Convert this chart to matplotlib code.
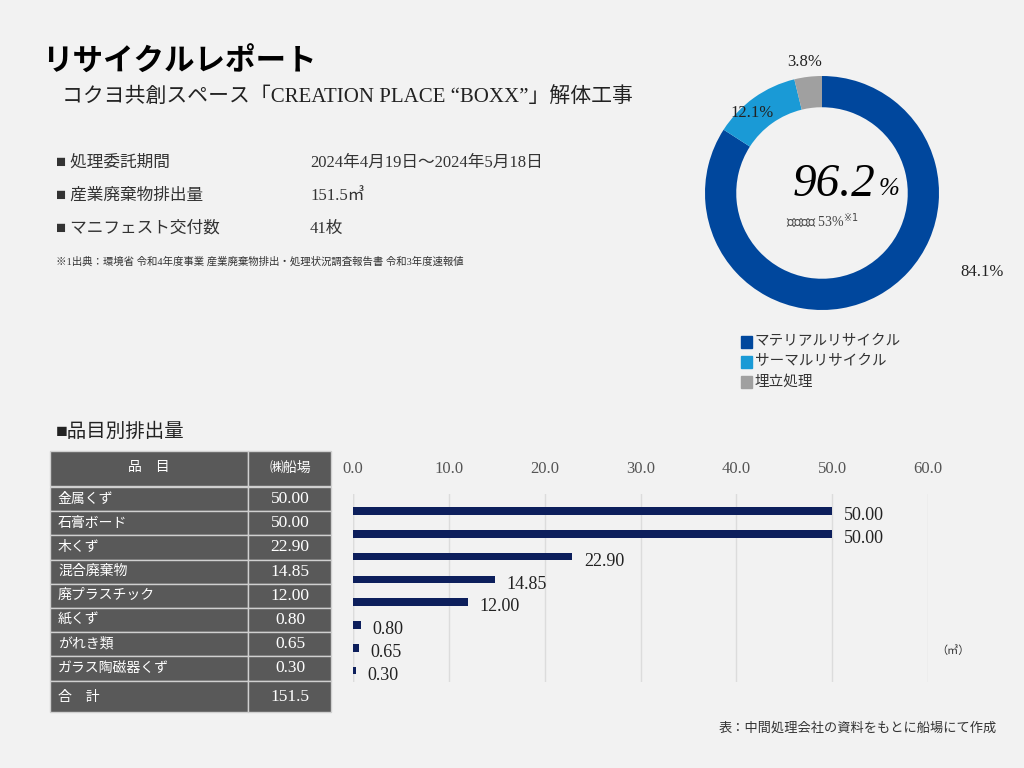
import matplotlib.pyplot as plt
from matplotlib.patches import Rectangle
import numpy as np

plt.rcParams['font.family'] = ['Liberation Serif', 'Noto Sans CJK JP', 'DejaVu Sans']

# donut data
pie_labels = ['マテリアルリサイクル', 'サーマルリサイクル', '埋立処理']
pie_values = [84.1, 12.1, 3.8]
pie_colors = ['#00479d', '#1a9ad6', '#a0a0a0']

# item data
items = ['金属くず', '石膏ボード', '木くず', '混合廃棄物', '廃プラスチック', '紙くず', 'がれき類', 'ガラス陶磁器くず']
amounts = [50.00, 50.00, 22.90, 14.85, 12.00, 0.80, 0.65, 0.30]
total = 151.5

W, H = 1024, 768
fig = plt.figure(figsize=(W / 100, H / 100), dpi=100)
fig.patch.set_facecolor('#f2f2f2')


def px(x, y):
    return x / W, 1 - y / H


def txt(x, y, s, **kw):
    fig.text(*px(x, y), s, **kw)


txt(42, 62, 'リサイクルレポート', fontsize=22, fontweight='bold', va='center',
    family=['Noto Sans CJK JP'])
txt(62, 97, 'コクヨ共創スペース「CREATION PLACE “BOXX”」解体工事', fontsize=15, va='center', color='#222')

info = [('■ 処理委託期間', '2024年4月19日～2024年5月18日'),
        ('■ 産業廃棄物排出量', '151.5㎥'),
        ('■ マニフェスト交付数', '41枚')]
for i, (a, b) in enumerate(info):
    y = 163 + i * 33
    txt(56, y, a, fontsize=12, va='center', color='#333')
    txt(310, y, b, fontsize=12, va='center', color='#333')
txt(56, 262, '※1出典：環境省 令和4年度事業 産業廃棄物排出・処理状況調査報告書 令和3年度速報値',
    fontsize=7.5, va='center', color='#333')

# donut
ax = fig.add_axes([(822 - 125) / W, 1 - (193 + 125) / H, 250 / W, 250 / H])
ax.pie(pie_values, colors=pie_colors, startangle=90, counterclock=False,
       wedgeprops=dict(width=0.25, edgecolor='none'), radius=117 / 125)
ax.set_xlim(-1, 1)
ax.set_ylim(-1, 1)
ax.set_aspect('equal')
ax.axis('off')
ax.text(0, 0.07, '96.2', fontsize=34, style='italic', ha='right', va='center', x=0.55) if False else None
ax.text(0.43, 0.07, '96.2', fontsize=34, style='italic', ha='right', va='center')
ax.text(0.45, 0.03, '%', fontsize=18, style='italic', ha='left', va='center')
ax.text(0, -0.23, '社会平均 53%$^{※1}$', fontsize=10, ha='center', va='center', color='#444')
for lab, (x, y) in zip(['84.1%', '12.1%', '3.8%'], [(982, 272), (752, 113), (805, 62)]):
    txt(x, y, lab, fontsize=12, ha='center', va='center', color='#222')

for i, (lab, c) in enumerate(zip(pie_labels, pie_colors)):
    y = 342 + i * 20
    fig.patches.append(Rectangle(px(741, y + 6), 11 / W, 12 / H, color=c, transform=fig.transFigure))
    txt(755, y, lab, fontsize=10.5, va='center', color='#333')

# section title
txt(56, 432, '■品目別排出量', fontsize=14, va='center', color='#222')

# table
dark = '#595959'
rows_y = [487 + i * 24.3 for i in range(9)]


def cell(x0, y0, w, h):
    fig.patches.append(Rectangle(px(x0, y0 + h), w / W, h / H, facecolor=dark,
                                 edgecolor='#d0d0d0', lw=1, transform=fig.transFigure))


cell(50, 451, 198, 35)
cell(248, 451, 83, 35)
txt(149, 468, '品　目', fontsize=10, ha='center', va='center', color='white')
txt(290, 468, '㈱船場', fontsize=10, ha='center', va='center', color='white')
for i, (it, v) in enumerate(zip(items, amounts)):
    y0 = 487 + i * 24.2
    cell(50, y0, 198, 24.2)
    cell(248, y0, 83, 24.2)
    txt(58, y0 + 12, it, fontsize=10, va='center', color='white')
    txt(290, y0 + 12, f'{v:.2f}', fontsize=12.5, ha='center', va='center', color='white')
cell(50, 681, 198, 31)
cell(248, 681, 83, 31)
txt(58, 697, '合　計', fontsize=10, va='center', color='white')
txt(290, 697, f'{total}', fontsize=12.5, ha='center', va='center', color='white')

# bars
bx = fig.add_axes([353 / W, 1 - 682 / H, (928 - 353) / W, (682 - 494) / H])
bx.set_facecolor('none')
ypos = np.arange(len(items))
bx.barh(ypos, amounts, height=0.33, color='#0d1f5c')
for y, v in zip(ypos, amounts):
    bx.text(v + 1.2, y + 0.2, f'{v:.2f}', fontsize=13, va='center', color='#222')
bx.set_xlim(0, 60)
bx.set_ylim(len(items) - 0.5, -0.75)
bx.set_xticks(np.arange(0, 61, 10))
bx.set_xticklabels([f'{t:.1f}' for t in np.arange(0, 61, 10)], fontsize=12, color='#555')
bx.xaxis.tick_top()
bx.tick_params(length=0, pad=12)
bx.set_yticks([])
bx.grid(axis='x', color='#dcdcdc', lw=1)
bx.set_axisbelow(True)
for s in bx.spines.values():
    s.set_visible(False)
bx.axvline(0, color='#dcdcdc', lw=1, zorder=0)
txt(953, 651, '（㎥）', fontsize=8, ha='center', va='center', color='#333')
txt(997, 729, '表：中間処理会社の資料をもとに船場にて作成', fontsize=9.5, ha='right', va='center', color='#333')

fig.savefig('out.png', dpi=100, facecolor=fig.get_facecolor())
